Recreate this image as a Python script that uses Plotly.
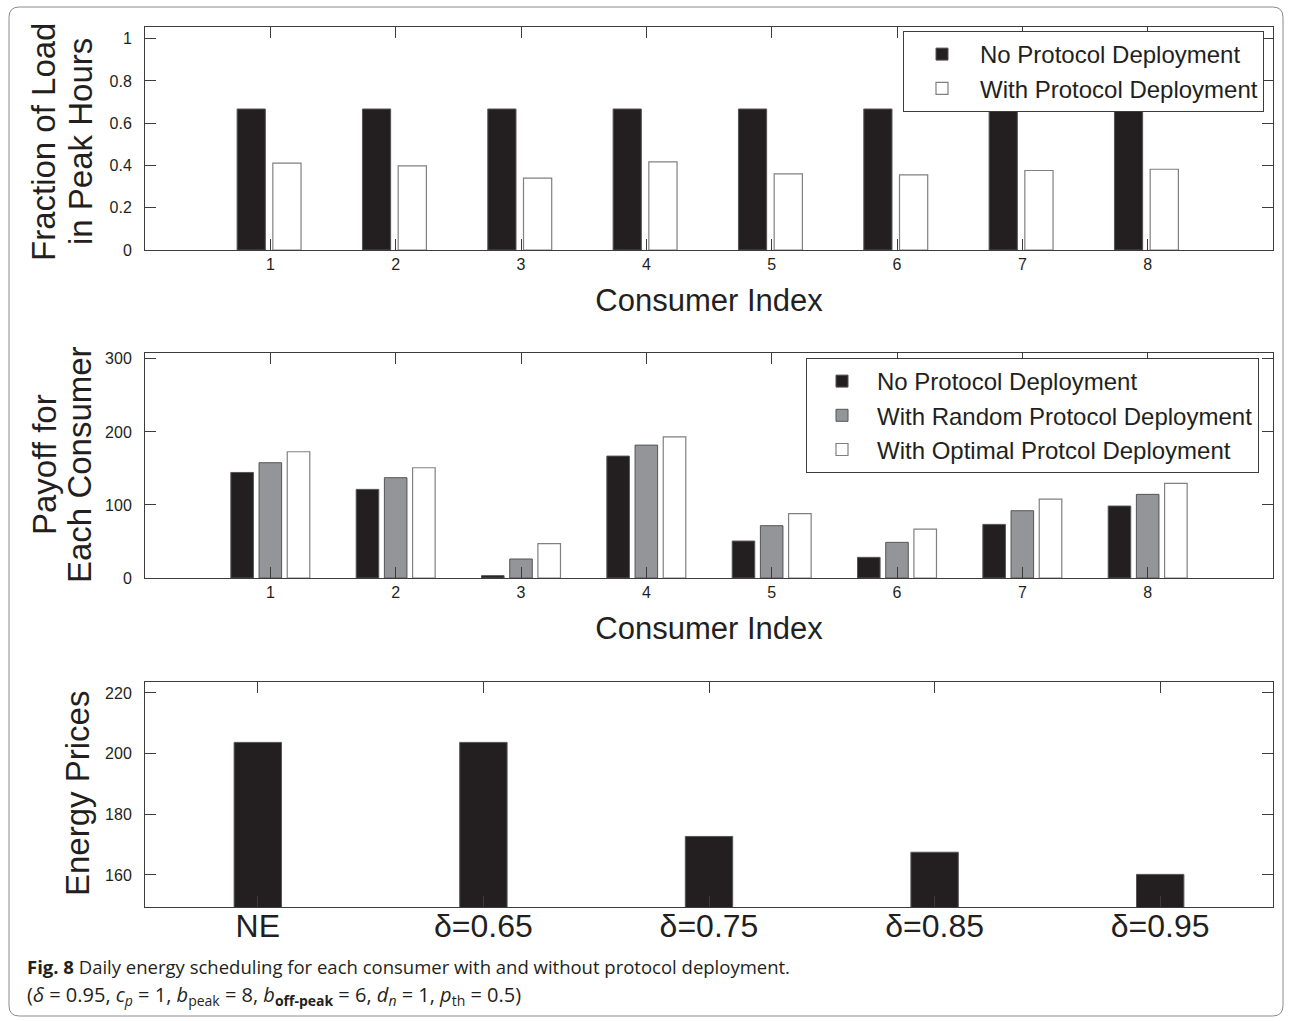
import plotly.graph_objects as go

# ---------------- data ----------------
consumers = [1, 2, 3, 4, 5, 6, 7, 8]
frac_no_protocol = [0.667, 0.667, 0.667, 0.667, 0.667, 0.667, 0.667, 0.667]
frac_with_protocol = [0.411, 0.398, 0.340, 0.417, 0.360, 0.355, 0.376, 0.382]

payoff_no = [144.5, 121.3, 3.2, 166.9, 50.6, 28.3, 73.4, 98.5]
payoff_random = [157.8, 137.3, 26.0, 181.9, 71.6, 48.8, 92.1, 114.5]
payoff_optimal = [172.8, 150.9, 47.0, 193.3, 88.0, 67.0, 108.1, 129.5]

price_labels = ["NE", "δ=0.65", "δ=0.75", "δ=0.85", "δ=0.95"]
price_pos = [1, 2, 3, 4, 5]
prices = [203.7, 203.7, 172.7, 167.5, 160.2]

# ---------------- style ----------------
W, H = 1291, 1021
BLACK = "#231f20"
GRAY = "#939598"
WHITE = "#ffffff"
AX = "#3c3c3c"
FONT = "Liberation Sans, Arial, Helvetica, sans-serif"
CAP_FONT = "Open Sans, Noto Sans, sans-serif"


def px_x(v):
    return v / W


def px_y(v):
    return 1 - v / H


fig = go.Figure()

# Panel 1
fig.add_trace(go.Bar(x=consumers, y=frac_no_protocol, name="No Protocol Deployment",
                     marker=dict(color=BLACK, line=dict(color="#555555", width=1)),
                     width=0.225, offset=-0.265, xaxis="x", yaxis="y", legend="legend"))
fig.add_trace(go.Bar(x=consumers, y=frac_with_protocol, name="With Protocol Deployment",
                     marker=dict(color=WHITE, line=dict(color="#808080", width=1.2)),
                     width=0.225, offset=0.02, xaxis="x", yaxis="y", legend="legend"))

# Panel 2
fig.add_trace(go.Bar(x=consumers, y=payoff_no, name="No Protocol Deployment",
                     marker=dict(color=BLACK, line=dict(color="#555555", width=1)),
                     width=0.18, offset=-0.315, xaxis="x2", yaxis="y2", legend="legend2"))
fig.add_trace(go.Bar(x=consumers, y=payoff_random, name="With Random Protocol Deployment",
                     marker=dict(color=GRAY, line=dict(color="#555555", width=1)),
                     width=0.18, offset=-0.09, xaxis="x2", yaxis="y2", legend="legend2"))
fig.add_trace(go.Bar(x=consumers, y=payoff_optimal, name="With Optimal Protcol Deployment",
                     marker=dict(color=WHITE, line=dict(color="#808080", width=1.2)),
                     width=0.18, offset=0.135, xaxis="x2", yaxis="y2", legend="legend2"))

# Panel 3
fig.add_trace(go.Bar(x=price_pos, y=prices, name="Energy Prices", showlegend=False,
                     marker=dict(color=BLACK, line=dict(color="#555555", width=1)),
                     width=0.21, xaxis="x3", yaxis="y3"))

common_ax = dict(showline=True, linecolor=AX, linewidth=1, mirror="ticks",
                 ticks="inside", tickcolor=AX, ticklen=11, tickwidth=1,
                 showgrid=False, zeroline=False, automargin=False)
xtick_font = dict(family=FONT, size=16, color=BLACK)
ytick_font = dict(family=FONT, size=16, color=BLACK)

xdom = [px_x(145), px_x(1273)]
title_font = dict(family=FONT, size=31, color=BLACK)

fig.update_layout(
    width=W, height=H,
    margin=dict(l=0, r=0, t=0, b=0, autoexpand=False),
    paper_bgcolor="white", plot_bgcolor="white",
    barmode="overlay",
    xaxis=dict(domain=xdom, anchor="y", range=[0, 9], tickvals=consumers, tickfont=xtick_font,
               title=dict(text="Consumer Index", font=title_font, standoff=17), **common_ax),
    yaxis=dict(domain=[px_y(250), px_y(27)], anchor="x", range=[0, 1.055],
               tickvals=[0, 0.2, 0.4, 0.6, 0.8, 1], ticktext=["0", "0.2", "0.4", "0.6", "0.8", "1"],
               ticklabelstandoff=9, tickfont=ytick_font, **common_ax),
    xaxis2=dict(domain=xdom, anchor="y2", range=[0, 9], tickvals=consumers, tickfont=xtick_font,
                title=dict(text="Consumer Index", font=title_font, standoff=17), **common_ax),
    yaxis2=dict(domain=[px_y(578), px_y(353)], anchor="x2", range=[0, 308],
                tickvals=[0, 100, 200, 300],
                ticklabelstandoff=9, tickfont=ytick_font, **common_ax),
    xaxis3=dict(domain=xdom, anchor="y3", range=[0.5, 5.5], tickvals=price_pos, ticktext=price_labels,
                ticklabelstandoff=-9,
                tickfont=dict(family=FONT, size=32, color=BLACK), **common_ax),
    yaxis3=dict(domain=[px_y(907), px_y(682)], anchor="x3", range=[149.45, 223.6],
                tickvals=[160, 180, 200, 220],
                ticklabelstandoff=9, tickfont=ytick_font, **common_ax),
    legend=dict(x=px_x(903), y=px_y(31), xanchor="left", yanchor="top",
                bgcolor="white", bordercolor=AX, borderwidth=1,
                font=dict(family=FONT, size=24, color=BLACK), itemwidth=66,
                tracegroupgap=0),
    legend2=dict(x=px_x(806), y=px_y(358), xanchor="left", yanchor="top",
                 bgcolor="white", bordercolor=AX, borderwidth=1,
                 font=dict(family=FONT, size=24, color=BLACK), itemwidth=60,
                 tracegroupgap=0),
)

# Y-axis titles (rotated text, two lines each where needed)
ytitles = [
    ("Fraction of Load", 44, 142),
    ("in Peak Hours", 81, 142),
    ("Payoff for", 44, 465),
    ("Each Consumer", 79, 465),
    ("Energy Prices", 77, 794),
]
for text, cx, cy in ytitles:
    fig.add_annotation(text=text, xref="paper", yref="paper", x=px_x(cx), y=px_y(cy),
                       xanchor="center", yanchor="middle", textangle=-90, showarrow=False,
                       font=dict(family=FONT, size=33, color=BLACK))

# Caption
fig.add_annotation(
    text="<b>Fig. 8</b> Daily energy scheduling for each consumer with and without protocol deployment.",
    xref="paper", yref="paper", x=px_x(25), y=px_y(966), xanchor="left", yanchor="middle",
    showarrow=False, font=dict(family=CAP_FONT, size=18.5, color=BLACK))
fig.add_annotation(
    text="(<i>δ</i> = 0.95, <i>c<sub>p</sub></i> = 1, <i>b</i><sub>peak</sub> = 8, "
         "<i>b</i><sub><b>off-peak</b></sub> = 6, <i>d<sub>n</sub></i> = 1, <i>p</i><sub>th</sub> = 0.5)",
    xref="paper", yref="paper", x=px_x(25), y=px_y(995), xanchor="left", yanchor="middle",
    showarrow=False, font=dict(family=CAP_FONT, size=20, color=BLACK))

# Outer rounded frame
x0, y0, x1, y1, r = px_x(9), px_y(7), px_x(1283), px_y(1016), 0.008
ry = r * W / H
fig.add_shape(type="path", xref="paper", yref="paper",
              path=(f"M {x0 + r},{y0} L {x1 - r},{y0} Q {x1},{y0} {x1},{y0 - ry} "
                    f"L {x1},{y1 + ry} Q {x1},{y1} {x1 - r},{y1} L {x0 + r},{y1} "
                    f"Q {x0},{y1} {x0},{y1 + ry} L {x0},{y0 - ry} Q {x0},{y0} {x0 + r},{y0} Z"),
              line=dict(color="#8a8a8a", width=1), fillcolor="rgba(0,0,0,0)", layer="below")

fig.write_html(
    "out.html",
    config={"displayModeBar": False},
    post_script="document.body.style.margin='0';document.body.style.overflow='hidden';",
)
